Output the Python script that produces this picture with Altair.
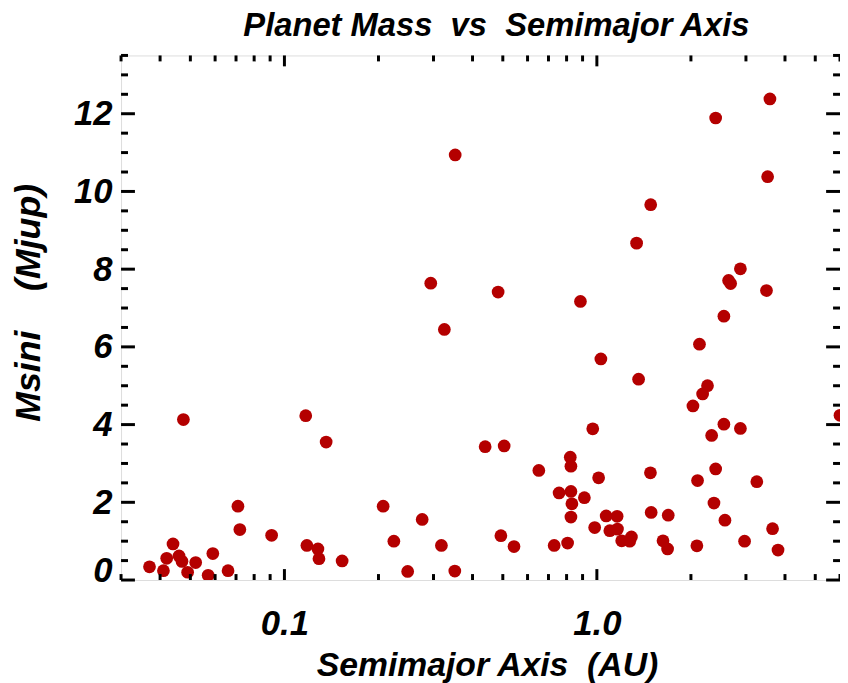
import altair as alt
import pandas as pd

# Semimajor axis (AU) and minimum mass (Mjup)
semimajor_au = [0.037, 0.041, 0.042, 0.044, 0.046, 0.047, 0.049, 0.052, 0.057, 0.059,
                0.066, 0.0475, 0.071, 0.072, 0.091, 0.117, 0.136, 0.118, 0.128, 0.129,
                0.153, 0.207, 0.224, 0.276, 0.318, 0.493, 0.543, 0.730, 0.806, 0.248,
                0.351, 0.325, 1.03, 1.36, 0.97, 0.439, 0.505, 0.822, 0.826, 0.652,
                1.013, 1.484, 0.757, 0.826, 0.832, 0.912, 0.826, 1.492, 1.692, 1.071,
                1.161, 0.984, 1.10, 1.164, 1.201, 1.29, 1.274, 1.628, 1.684, 0.352,
                1.487, 1.34, 0.294, 0.483, 0.886, 3.58, 2.40, 3.52, 2.88, 2.64,
                2.68, 3.49, 2.55, 2.13, 2.26, 2.18, 2.03, 2.55, 2.88, 2.33,
                2.40, 2.10, 3.25, 2.37, 2.57, 3.65, 2.09, 2.97, 3.80, 6.0]
msini_mjup = [0.34, 0.24, 0.56, 0.93, 0.62, 0.48, 0.20, 0.45, 0.12, 0.68,
              0.24, 4.13, 1.90, 1.30, 1.15, 4.23, 3.55, 0.89, 0.80, 0.55,
              0.49, 1.90, 1.00, 1.56, 0.89, 1.14, 0.86, 0.89, 0.95, 0.22,
              0.23, 6.45, 5.69, 5.17, 3.89, 3.43, 3.45, 3.16, 2.93, 2.82,
              2.63, 2.76, 2.24, 2.28, 1.96, 2.12, 1.62, 1.74, 1.67, 1.65,
              1.64, 1.35, 1.27, 1.31, 1.01, 1.11, 1.00, 1.01, 0.80, 10.94,
              9.66, 8.67, 7.64, 7.41, 7.17, 12.38, 11.89, 10.38, 8.01, 7.71,
              7.63, 7.45, 6.79, 6.07, 5.00, 4.79, 4.48, 4.01, 3.90, 3.72,
              2.86, 2.56, 2.53, 1.98, 1.54, 1.32, 0.88, 1.00, 0.77, 4.24]

x_major = [0.1, 1.0]
x_minor = [0.03, 0.04, 0.05, 0.06, 0.07, 0.08, 0.09,
           0.2, 0.3, 0.4, 0.5, 0.6, 0.7, 0.8, 0.9,
           2, 3, 4, 5, 6]
y_major = [0, 2, 4, 6, 8, 10, 12]
y_minor = [0.5, 1, 1.5, 2.5, 3, 3.5, 4.5, 5, 5.5, 6.5, 7, 7.5, 8.5, 9, 9.5,
           10.5, 11, 11.5, 12.5, 13, 13.5]

W, H = 725, 529
FONT = "Liberation Sans"
RED = "#b40000"

xscale = alt.Scale(type="log", domain=[0.03, 6], nice=False)
yscale = alt.Scale(domain=[0, 13.5], nice=False, zero=False)

xaxis = alt.Axis(values=x_major, format=".1f", ticks=False, tickSize=0,
                 domain=False, grid=False, labelPadding=27,
                 labelBaseline="top", labelFont=FONT, labelFontSize=35,
                 labelFontStyle="italic", labelFontWeight="bold",
                 labelColor="black",
                 title="Semimajor Axis\u00a0\u00a0(AU)", titleFont=FONT,
                 titleFontSize=34, titleFontStyle="italic",
                 titleFontWeight="bold", titleColor="black",
                 titleX=369, titleY=96, titleAlign="center",
                 titleBaseline="alphabetic", titleAnchor="middle")
yaxis = alt.Axis(values=y_major, format="d", ticks=False, tickSize=0,
                 domain=False, grid=False, labelPadding=9,
                 labelFlush=True, labelFlushOffset=8, labelFont=FONT,
                 labelFontSize=35,
                 labelFontStyle="italic", labelFontWeight="bold",
                 labelColor="black",
                 title="Msini\u00a0\u00a0\u00a0\u00a0(Mjup)", titleFont=FONT,
                 titleFontSize=36, titleFontStyle="italic",
                 titleFontWeight="bold", titleColor="black",
                 titleAngle=-90, titleX=-82, titleY=249,
                 titleAlign="center", titleBaseline="alphabetic",
                 titleAnchor="middle")

df = pd.DataFrame({"a": semimajor_au, "m": msini_mjup})

points = alt.Chart(df).mark_circle(size=165, color=RED, opacity=1, clip=True).encode(
    x=alt.X("a:Q", scale=xscale, axis=xaxis),
    y=alt.Y("m:Q", scale=yscale, axis=yaxis),
)

def yrules(vals, x0, x1):
    return alt.Chart(pd.DataFrame({"v": vals})).mark_rule(
        color="black", strokeWidth=3).encode(
        y=alt.Y("v:Q", scale=yscale, axis=yaxis),
        x=alt.value(x0), x2=alt.value(x1))

def xrules(vals, y0, y1):
    return alt.Chart(pd.DataFrame({"v": vals})).mark_rule(
        color="black", strokeWidth=3).encode(
        x=alt.X("v:Q", scale=xscale, axis=xaxis),
        y=alt.value(y0), y2=alt.value(y1))

layers = [
    points,
    yrules(y_major, 0, 14), yrules(y_minor, 0, 7),
    yrules(y_major, W, W - 14), yrules(y_minor, W, W - 7),
    xrules(x_major, H, H - 11), xrules(x_minor, H, H - 6),
    xrules(x_major, 0, 11), xrules(x_minor, 0, 6),
]

chart = alt.layer(*layers).properties(
    width=W, height=H,
    autosize=alt.AutoSizeParams(type="none"),
    padding={"left": 114, "top": 45, "right": 0, "bottom": 101},
    title=alt.TitleParams(
        text="Planet Mass\u00a0\u00a0vs\u00a0\u00a0Semimajor Axis",
        font=FONT, fontSize=33, fontStyle="italic", fontWeight="bold",
        color="black", anchor="middle", offset=-22, baseline="bottom", dx=16),
).configure_view(stroke="black", strokeWidth=3).configure(background="white")

chart.save("out.html", embed_options={"renderer": "svg", "actions": False})
